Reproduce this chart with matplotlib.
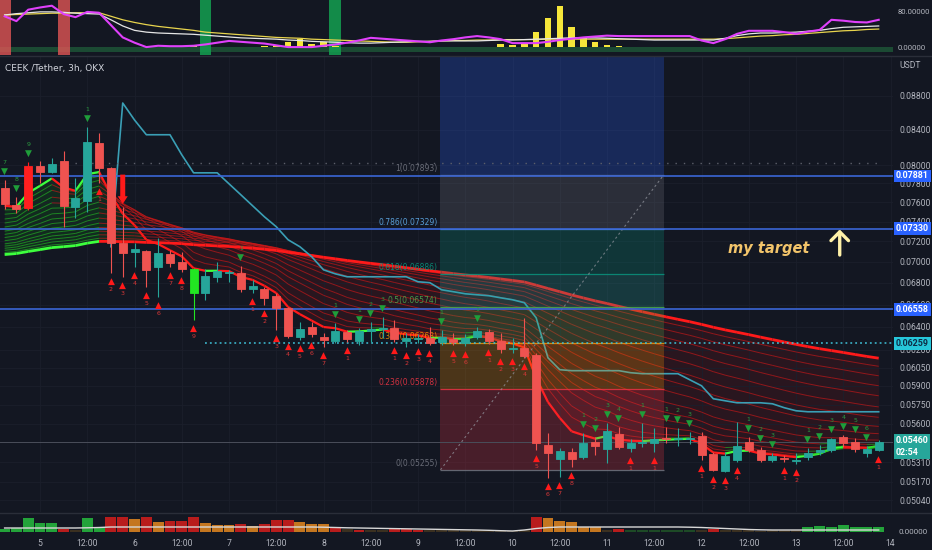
import numpy as np
import matplotlib
matplotlib.use("Agg")
import matplotlib.pyplot as plt
import matplotlib.ticker as mticker
import matplotlib.transforms as mtrans
from matplotlib.collections import LineCollection
from matplotlib.lines import Line2D

# ---- colours (TradingView dark) ----
BG = "#131722"
GRID = "#1b1f2b"
TEXT = "#b2b5be"
UP = "#26a69a"
DOWN = "#ef5350"
AXIS_FONT = ["Liberation Sans Narrow", "Roboto", "DejaVu Sans"]

# ---- CEEK/USDT 3h candles, first bar = day 4 15:00 ----
opens = [0.07753, 0.07574, 0.07542, 0.07992, 0.07926, 0.08047, 0.07553, 0.07615, 0.08250, 0.07970,
         0.07187, 0.07099, 0.07108, 0.06953, 0.07079, 0.07002, 0.06934, 0.06708, 0.06858, 0.06896,
         0.06896, 0.06745, 0.06745, 0.06681, 0.06571, 0.06313, 0.06402, 0.06313, 0.06279, 0.06357,
         0.06279, 0.06366, 0.06384, 0.06393, 0.06279, 0.06296, 0.06305, 0.06270, 0.06296, 0.06261,
         0.06313, 0.06357, 0.06279, 0.06210, 0.06218, 0.06158, 0.05439, 0.05335, 0.05387, 0.05350,
         0.05462, 0.05409, 0.05522, 0.05417, 0.05454, 0.05454, 0.05492, 0.05485, 0.05485, 0.05507,
         0.05372, 0.05248, 0.05328, 0.05462, 0.05402, 0.05328, 0.05343, 0.05321, 0.05350, 0.05387,
         0.05402, 0.05500, 0.05462, 0.05380, 0.05402]
highs = [0.07839, 0.07658, 0.08036, 0.08047, 0.08080, 0.08160, 0.07861, 0.08435, 0.08366, 0.07981,
         0.07553, 0.07187, 0.07118, 0.07237, 0.07118, 0.07099, 0.06943, 0.06934, 0.07002, 0.06924,
         0.06963, 0.06830, 0.06764, 0.06708, 0.06580, 0.06445, 0.06445, 0.06349, 0.06436, 0.06375,
         0.06393, 0.06445, 0.06490, 0.06463, 0.06349, 0.06340, 0.06402, 0.06375, 0.06349, 0.06340,
         0.06402, 0.06384, 0.06349, 0.06305, 0.06481, 0.06175, 0.05530, 0.05417, 0.05417, 0.05530,
         0.05500, 0.05607, 0.05576, 0.05485, 0.05607, 0.05568, 0.05576, 0.05568, 0.05538, 0.05538,
         0.05387, 0.05387, 0.05615, 0.05500, 0.05424, 0.05380, 0.05365, 0.05380, 0.05417, 0.05439,
         0.05492, 0.05515, 0.05492, 0.05432, 0.05477]
lows = [0.07531, 0.07490, 0.07521, 0.07807, 0.07915, 0.07348, 0.07439, 0.07500, 0.07807, 0.06896,
        0.06858, 0.06953, 0.06764, 0.06672, 0.06953, 0.06905, 0.06463, 0.06644, 0.06811, 0.06811,
        0.06718, 0.06708, 0.06598, 0.06375, 0.06305, 0.06287, 0.06313, 0.06227, 0.06261, 0.06270,
        0.06244, 0.06270, 0.06305, 0.06270, 0.06227, 0.06261, 0.06244, 0.06244, 0.06244, 0.06235,
        0.06296, 0.06253, 0.06175, 0.06175, 0.06133, 0.05402, 0.05198, 0.05205, 0.05277, 0.05335,
        0.05365, 0.05306, 0.05409, 0.05387, 0.05424, 0.05387, 0.05454, 0.05432, 0.05447, 0.05328,
        0.05248, 0.05241, 0.05313, 0.05387, 0.05313, 0.05313, 0.05313, 0.05299, 0.05328, 0.05365,
        0.05387, 0.05424, 0.05387, 0.05350, 0.05395]
closes = [0.07584, 0.07531, 0.07992, 0.07926, 0.08014, 0.07563, 0.07647, 0.08261, 0.07970, 0.07187,
          0.07089, 0.07128, 0.06924, 0.07089, 0.06992, 0.06934, 0.06708, 0.06867, 0.06915, 0.06905,
          0.06745, 0.06773, 0.06662, 0.06571, 0.06322, 0.06384, 0.06340, 0.06287, 0.06366, 0.06296,
          0.06366, 0.06384, 0.06393, 0.06296, 0.06305, 0.06305, 0.06261, 0.06313, 0.06270, 0.06305,
          0.06366, 0.06279, 0.06210, 0.06218, 0.06150, 0.05454, 0.05380, 0.05395, 0.05335, 0.05454,
          0.05432, 0.05545, 0.05424, 0.05454, 0.05462, 0.05485, 0.05485, 0.05492, 0.05492, 0.05365,
          0.05255, 0.05358, 0.05432, 0.05402, 0.05328, 0.05358, 0.05335, 0.05328, 0.05380, 0.05402,
          0.05485, 0.05454, 0.05409, 0.05409, 0.05460]
# indicator bar colours
bar_color_override = {2: "#ff1f1f", 16: "#22e622"}

# trailing stop (cyan), starts at bar 9
trail = [np.nan] * 9 + [
    0.07148, 0.08715, 0.08513, 0.08342, 0.08342, 0.08342, 0.08114, 0.07915, 0.07915, 0.07915,
    0.07796, 0.07679, 0.07563, 0.07449, 0.07348, 0.07217, 0.07148, 0.07050, 0.06924, 0.06886,
    0.06858, 0.06858, 0.06858, 0.06858, 0.06858, 0.06858, 0.06811, 0.06802, 0.06736, 0.06718,
    0.06699, 0.06690, 0.06681, 0.06662, 0.06644, 0.06617, 0.06481, 0.06133, 0.06033, 0.06025,
    0.06025, 0.06025, 0.06025, 0.06025, 0.06008, 0.06000, 0.06000, 0.06000, 0.06000, 0.05950,
    0.05901, 0.05796, 0.05780, 0.05764, 0.05764, 0.05764, 0.05756, 0.05725, 0.05701, 0.05693,
    0.05693, 0.05693, 0.05693, 0.05693, 0.05693, 0.05693]

# EMA ribbon: lengths and the value each line has at the first visible bar
ribbon_lengths = [5, 7, 9, 12, 15, 18, 22, 27, 32, 38, 45, 53, 61, 70, 80, 90]
ribbon_seed = [0.07553, 0.07500, 0.07449, 0.07398, 0.07358, 0.07317, 0.07277, 0.07247,
               0.07217, 0.07187, 0.07158, 0.07138, 0.07118, 0.07099, 0.07079, 0.07060]

# TD sequential counts
red_idx = [8, 9, 10, 11, 12, 13, 14, 15, 16, 21, 22, 23, 24, 25, 26, 27, 29, 33, 34, 35, 36, 38, 39,
           41, 42, 43, 44, 45, 46, 47, 48, 53, 55, 59, 60, 61, 62, 66, 67, 74]
red_num = [1, 2, 3, 4, 5, 6, 7, 8, 9, 1, 2, 3, 4, 5, 6, 7, 1, 1, 2, 3, 4, 5, 6,
           1, 2, 3, 4, 5, 6, 7, 8, 1, 1, 1, 2, 3, 4, 1, 2, 1]
green_idx = [0, 1, 2, 7, 20, 28, 30, 31, 32, 37, 40, 49, 50, 51, 52, 54, 56, 57, 58,
             63, 64, 65, 68, 69, 70, 71, 72, 73]
green_num = [7, 8, 9, 1, 1, 1, 1, 2, 3, 1, 1, 1, 2, 3, 4, 1, 1, 2, 3,
             1, 2, 3, 1, 2, 3, 4, 5, 6]

# sell signal arrow (bar, tail price, tip price)
signal = (10, 0.07926, 0.07553)

# fibonacci retracement drawing
fib_bars = (36.9, 55.8)
fib_low, fib_high = 0.05255, 0.07893
fib_ratios = [1, 0.786, 0.618, 0.5, 0.382, 0.236, 0]
fib_labels = ["1(0.07893)", "0.786(0.07329)", "0.618(0.06886)", "0.5(0.06574)",
              "0.382(0.06263)", "0.236(0.05878)", "0(0.05255)"]
fib_line_colors = ["#787b86", "#64b5f6", "#089981", "#4caf50", "#ff9800", "#f23645", "#787b86"]
fib_zone_colors = ["#787b86", "#089981", "#26a69a", "#4caf50", "#ff9800", "#f23645"]

# horizontal lines
blue_levels = [0.07881, 0.07330, 0.06558]
cyan_level, cyan_from = 0.06259, 17
dotted_level, dotted_from = 0.0802, 6
last_price = 0.05460

# annotation
target_text_pos = (61.2, 0.07128)
target_arrow = (70.7, 0.07040, 0.07348)

# oscillator pane
osc = [70, 59, 85, 90, 94, 75, 68, 80, 78, 50, 22, 10, 0, 3, 2, 2, 3, 6, 10, 14,
       12, 10, 8, 4, 0, 0, 0, 3, 6, 10, 15, 21, 19, 17, 15, 13, 11, 15, 18, 22,
       25, 22, 18, 9, 9, 9, 12, 16, 19, 22, 24, 26, 25, 25, 25, 25, 25, 25, 25, 15,
       9, 18, 30, 37, 37, 37, 34, 30, 35, 39, 62, 60, 57, 56, 62]
osc_fast = [73, 76, 78, 80, 80, 79, 77, 76, 75, 62, 48, 38, 34, 32, 31, 30, 29, 27, 25, 23,
            21, 20, 19, 18, 16, 15, 13, 12, 11, 10, 9, 9, 10, 11, 12, 13, 13, 14, 14, 14,
            14, 15, 16, 16, 17, 18, 19, 20, 21, 21, 21, 20, 19, 18, 17, 16, 16, 16, 16, 16,
            16, 20, 26, 30, 32, 32, 33, 34, 36, 38, 42, 45, 46, 47, 48]
osc_slow = [73, 74, 75, 76, 77, 77, 78, 78, 78, 70, 62, 56, 51, 47, 44, 41, 38, 34, 32, 30,
            28, 26, 24, 22, 21, 20, 18, 17, 16, 15, 14, 13, 12, 11, 11, 12, 13, 14, 15, 15,
            16, 16, 17, 17, 17, 17, 18, 18, 18, 18, 18, 18, 18, 18, 18, 18, 18, 18, 18, 18,
            18, 19, 21, 23, 25, 26, 28, 29, 31, 33, 35, 37, 38, 40, 41]
osc_hist = {16: 5, 22: 3, 23: 4, 24: 11, 25: 18, 26: 7, 27: 11, 28: 3, 42: 8, 43: 5, 44: 8,
            45: 35, 46: 66, 47: 94, 48: 46, 49: 22, 50: 12, 51: 5, 52: 2}
osc_red_bars = [0, 5]
osc_green_bars = [17, 28]

# volume pane (millions)
volume = [0.3, 0.4, 1.4, 0.9, 0.9, 0.3, 0.2, 1.4, 0.5, 1.5, 1.5, 1.3, 1.5, 1.0, 1.1, 1.1, 1.5, 0.9, 0.7, 0.7,
          0.8, 0.6, 0.8, 1.2, 1.2, 1.0, 0.8, 0.8, 0.5, 0.3, 0.25, 0.2, 0.2, 0.3, 0.3, 0.25, 0.2, 0.2, 0.2, 0.25,
          0.2, 0.2, 0.2, 0.15, 0.2, 1.5, 1.4, 1.1, 1.0, 0.5, 0.5, 0.25, 0.3, 0.2, 0.25, 0.2, 0.2, 0.2, 0.2, 0.25,
          0.3, 0.2, 0.2, 0.2, 0.15, 0.2, 0.2, 0.2, 0.5, 0.6, 0.5, 0.7, 0.5, 0.5, 0.5]
volume_kind = ("gggggrdggr" "rororrrooo" "rorrrooord" "rddrrrdddd" "dddddroooo"
               "odreeeeeed" "rdddddddgg" "ggggg")
volume_ma = [0.4, 0.4, 0.4, 0.4, 0.4, 0.4, 0.4, 0.42, 0.45, 0.5, 0.5, 0.5, 0.5, 0.5, 0.5, 0.5, 0.5, 0.5, 0.5, 0.5,
             0.5, 0.5, 0.5, 0.5, 0.5, 0.5, 0.5, 0.48, 0.45, 0.42, 0.4, 0.38, 0.36, 0.34, 0.32, 0.3, 0.28, 0.26, 0.24, 0.22,
             0.2, 0.17, 0.13, 0.1, 0.2, 0.35, 0.45, 0.5, 0.5, 0.5, 0.5, 0.5, 0.5, 0.5, 0.5, 0.5, 0.5, 0.5, 0.48, 0.45,
             0.4, 0.35, 0.3, 0.25, 0.22, 0.2, 0.2, 0.2, 0.2, 0.2, 0.2, 0.2, 0.2, 0.2, 0.2]
VOL_COLORS = {"g": "#23a33a", "r": "#b81c1c", "o": "#c4761f", "d": "#3b3020", "e": "#1d4a26"}

# time axis
first_bar_hour = -9   # day 5 00:00 = hour 0
bar_hours = 3
tick_hours = list(range(0, 217, 12))
tick_labels = ["5", "12:00", "6", "12:00", "7", "12:00", "8", "12:00", "9", "12:00",
               "10", "12:00", "11", "12:00", "12", "12:00", "13", "12:00", "14"]
price_ticks = [0.088, 0.084, 0.080, 0.078, 0.076, 0.074, 0.072, 0.070, 0.068, 0.066, 0.064,
               0.062, 0.0605, 0.059, 0.0575, 0.056, 0.0531, 0.0517, 0.0504]


def ema(values, length, seed):
    a = 2.0 / (length + 1)
    out, v = [], seed
    for c in values:
        v = v + a * (c - v)
        out.append(v)
    return np.array(out)


def fmt5(v, _=None):
    return f"{v:.5f}"


plt.rcParams["font.family"] = "DejaVu Sans"
fig = plt.figure(figsize=(9.32, 5.5), dpi=100, facecolor=BG)
W, H = 932, 550
right = 893 / W
ax_osc = fig.add_axes([0, 1 - 55 / H, right, 55 / H])
ax = fig.add_axes([0, 1 - 512 / H, right, 456 / H], sharex=ax_osc)
ax_vol = fig.add_axes([0, 1 - 535 / H, right, 22 / H], sharex=ax_osc)

n = len(closes)
x = np.arange(n)
o, h, l, c = map(np.array, (opens, highs, lows, closes))

for a in (ax_osc, ax, ax_vol):
    a.set_facecolor(BG)
    for s in a.spines.values():
        s.set_visible(False)
    a.tick_params(axis="both", length=0, colors=TEXT, labelsize=6.2, pad=5)
    a.yaxis.tick_right()

ax.set_xlim(-0.39, 75.21)
tick_pos = [(t - first_bar_hour) / bar_hours for t in tick_hours]

# ---------- main pane ----------
ax.set_yscale("log")
ax.set_ylim(0.04958, 0.09299)
ax.yaxis.set_major_locator(mticker.FixedLocator(price_ticks))
ax.yaxis.set_major_formatter(mticker.FuncFormatter(fmt5))
ax.yaxis.set_minor_locator(mticker.NullLocator())
ax.yaxis.set_minor_formatter(mticker.NullFormatter())
ax.set_xticks(tick_pos)
ax.tick_params(axis="x", labelbottom=False)
ax.grid(True, color=GRID, lw=0.6, zorder=0)

# EMA ribbon
lines = [ema(c, L, s) for L, s in zip(ribbon_lengths, ribbon_seed)]
fast, slow = lines[0], lines[-1]
ax.fill_between(x, fast, slow, where=fast < slow, color="#c01010", alpha=0.13, lw=0, zorder=1, interpolate=True)
ax.fill_between(x, fast, slow, where=fast >= slow, color="#10b010", alpha=0.13, lw=0, zorder=1, interpolate=True)
for i, line in enumerate(lines):
    segs = [[(x[k], line[k]), (x[k + 1], line[k + 1])] for k in range(n - 1)]
    rising = np.diff(line) >= 0
    edge = i == 0 or i == len(lines) - 1
    if edge:
        cols = ["#3dff3d" if r else "#ff1a1a" for r in rising]
        lw, alpha = (1.6 if i == 0 else 2.0), 1.0
    else:
        cols = ["#25c025" if r else "#d81818" for r in rising]
        lw, alpha = 0.7, 0.6
    ax.add_collection(LineCollection(segs, colors=cols, linewidths=lw, alpha=alpha, zorder=2))

# trailing stop
ax.plot(x, trail, color="#3a9fb5", lw=1.2, zorder=2.2)

# fib drawing
fx0, fx1 = fib_bars
fib_vals = [fib_low + r * (fib_high - fib_low) for r in fib_ratios]
ax.fill_between([fx0, fx1], fib_high, 0.1, color="#2962ff", alpha=0.25, lw=0, zorder=2.4)
for k in range(len(fib_vals) - 1):
    ax.fill_between([fx0, fx1], fib_vals[k + 1], fib_vals[k], color=fib_zone_colors[k],
                    alpha=0.24, lw=0, zorder=2.4)
for v, col, lab in zip(fib_vals, fib_line_colors, fib_labels):
    ax.hlines(v, fx0, fx1, color=col, lw=0.9, alpha=0.8, zorder=2.5)
    ax.annotate(lab, (fx0, v), xytext=(-2, 1.5), textcoords="offset points", ha="right", va="bottom",
                fontsize=5.5, color=col, alpha=0.85, zorder=2.6)
ax.plot([fx0, fx1], [fib_low, fib_high], color="#9598a1", lw=0.8, ls=(0, (2, 2.5)), alpha=0.7, zorder=2.5)

# horizontal lines
for v in blue_levels:
    ax.axhline(v, color="#3a66d6", lw=1.2, zorder=2.6)
ax.hlines(cyan_level, cyan_from, 75.21, color="#3fc1d8", lw=1.1, ls=(0, (1.2, 2)), zorder=2.6)
ax.hlines(dotted_level, dotted_from, 74, color="#5d606b", lw=1.0, ls=(0, (1, 5)), zorder=2.6)
ax.axhline(last_price, color="#4a4e5a", lw=0.7, zorder=2.6)

# candles
cols = [bar_color_override.get(i, UP if c[i] >= o[i] else DOWN) for i in range(n)]
ax.vlines(x, l, h, color=cols, lw=0.8, zorder=3)
ax.bar(x, np.abs(c - o), bottom=np.minimum(o, c), width=0.68, color=cols, edgecolor=cols,
       linewidth=0.6, zorder=3.1)

# TD sequential markers
for i, num in zip(red_idx, red_num):
    ax.annotate("\u25b2", (i, l[i]), xytext=(0, -3), textcoords="offset points", ha="center", va="top",
                fontsize=6.5, color="#ff1a1a", zorder=4)
    ax.annotate(str(num), (i, l[i]), xytext=(0, -10.5), textcoords="offset points", ha="center", va="top",
                fontsize=4.5, color="#d83838", zorder=4)
for i, num in zip(green_idx, green_num):
    ax.annotate("\u25bc", (i, h[i]), xytext=(0, 3), textcoords="offset points", ha="center", va="bottom",
                fontsize=6.5, color="#1f9e3a", zorder=4)
    ax.annotate(str(num), (i, h[i]), xytext=(0, 10.5), textcoords="offset points", ha="center", va="bottom",
                fontsize=4.5, color="#2a9a40", zorder=4)

# sell signal arrow
si, s_tail, s_tip = signal
ax.annotate("", xy=(si, s_tip), xytext=(si, s_tail),
            arrowprops=dict(arrowstyle="simple,head_width=0.9,head_length=0.7,tail_width=0.45",
                            color="#ff1a1a", lw=0, mutation_scale=8), zorder=4)

# my target
ax.text(target_text_pos[0], target_text_pos[1], "my target", fontsize=10.5, fontstyle="italic",
        fontweight="bold", color="#f2c46a", va="center", ha="left", zorder=5)
ta_x, ta_tail, ta_tip = target_arrow
ax.annotate("", xy=(ta_x, ta_tip), xytext=(ta_x, ta_tail),
            arrowprops=dict(arrowstyle="->,head_width=0.45,head_length=0.45", color="#fff1a8", lw=2.4,
                            mutation_scale=14), zorder=5)

# title and axis unit
ax.text(5 / 893, (512 - 69) / 456, "CEEK /Tether, 3h, OKX", transform=ax.transAxes, fontsize=6.5,
        color="#d1d4dc", va="center", ha="left", zorder=6)
ax.text(1.007, (512 - 65) / 456, "USDT", transform=ax.transAxes, fontsize=6.2, color=TEXT,
        va="center", ha="left", clip_on=False, family=AXIS_FONT)

# price tags
blend = mtrans.blended_transform_factory(ax.transAxes, ax.transData)


def price_tag(v, text, fc, tc, dy=0, va="center"):
    ax.annotate(text, xy=(1.003, v), xycoords=blend, xytext=(0, dy), textcoords="offset points",
                ha="left", va=va, fontsize=6.4, color=tc, linespacing=1.45, annotation_clip=False,
                family=AXIS_FONT, fontweight="bold",
                bbox=dict(boxstyle="square,pad=0.22", fc=fc, ec="none"), zorder=10)


for v in blue_levels:
    price_tag(v, fmt5(v), "#2962ff", "white")
price_tag(cyan_level, fmt5(cyan_level), "#26c6da", "#0d2b45")
price_tag(last_price, fmt5(last_price) + "\n02:54", UP, "white", dy=4.5, va="top")

# ---------- oscillator pane ----------
ax_osc.set_ylim(-18, 107)
ax_osc.set_yticks([80, 0])
ax_osc.yaxis.set_major_formatter(mticker.FuncFormatter(fmt5))
ax_osc.tick_params(axis="x", labelbottom=False)
ax_osc.tick_params(axis="y", labelsize=5.6, pad=3)
ax_osc.axhspan(-11, 0, color="#1b4a33", lw=0, zorder=0.5)
for i in osc_red_bars:
    ax_osc.axvspan(i - 0.5, i + 0.5, color="#e05555", alpha=0.8, lw=0, zorder=0.6)
for i in osc_green_bars:
    ax_osc.axvspan(i - 0.5, i + 0.5, color="#13a050", alpha=0.85, lw=0, zorder=0.6)
hx = list(osc_hist.keys())
ax_osc.bar(hx, [osc_hist[k] for k in hx], width=0.55, color="#f5e63a", zorder=1)
ax_osc.plot(x, osc_slow, color="#e8d44d", lw=0.9, zorder=2)
ax_osc.plot(x, osc_fast, color="#e6e6e6", lw=0.9, zorder=2)
ax_osc.plot(x, osc, color="#e040fb", lw=1.5, zorder=3)

# ---------- volume pane ----------
ax_vol.set_ylim(-0.3, 1.9)
ax_vol.set_yticks([0])
ax_vol.yaxis.set_major_formatter(mticker.FuncFormatter(fmt5))
ax_vol.tick_params(axis="y", labelsize=5.8, pad=4)
ax_vol.bar(x, volume, width=0.92, color=[VOL_COLORS[k] for k in volume_kind], zorder=1)
ax_vol.plot(x, volume_ma, color="#d8d8d8", lw=1.0, zorder=2)
ax_vol.set_xticks(tick_pos)
ax_vol.set_xticklabels(tick_labels)
ax_vol.tick_params(axis="x", pad=3, labelsize=6.2, colors=TEXT)

for a in (ax_osc, ax, ax_vol):
    for t in a.get_yticklabels() + a.get_xticklabels():
        t.set_family(AXIS_FONT)

# pane separators
for yy in (55.5, 512.5):
    fig.add_artist(Line2D([0, 1], [1 - yy / H] * 2, color="#2a2e39", lw=1))

fig.savefig("out.png", dpi=100, facecolor=BG)
